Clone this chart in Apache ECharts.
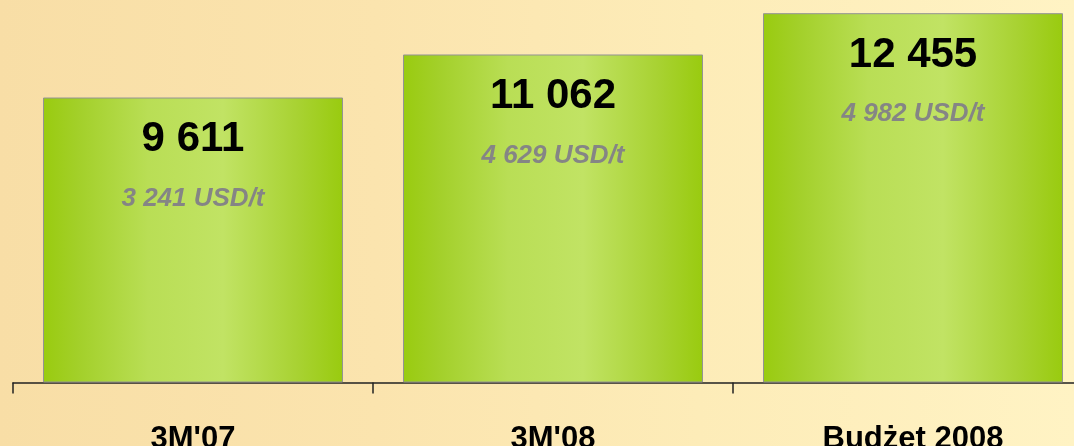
<!DOCTYPE html>
<html>
<head>
<meta charset="utf-8">
<script src="https://cdn.jsdelivr.net/npm/echarts@6/dist/echarts.min.js"></script>
<style>
  html, body { margin: 0; padding: 0; }
  body {
    width: 1074px; height: 446px; overflow: hidden;
    background: linear-gradient(90deg, #f8dea6 0%, #fbe4ae 35%, #fdecb8 65%, #fff3c4 100%);
  }
  #chart { width: 1074px; height: 446px; }
</style>
</head>
<body>
<div id="chart"></div>
<script>
// dane z wykresu
var categories = ["3M'07", "3M'08", "Budżet 2008"];
var values = [9611, 11062, 12455];
var usdPerTon = [3241, 4629, 4982];

function fmt(n) {
  return String(n).replace(/\B(?=(\d{3})+(?!\d))/g, ' ');
}

var chart = echarts.init(document.getElementById('chart'), null, { renderer: 'canvas' });

var barColor = new echarts.graphic.LinearGradient(0, 0, 1, 0, [
  { offset: 0, color: '#99cb0f' },
  { offset: 0.12, color: '#a3d02a' },
  { offset: 0.35, color: '#b9de55' },
  { offset: 0.6, color: '#c1e364' },
  { offset: 0.85, color: '#a8d232' },
  { offset: 1, color: '#99cb0f' }
]);

var option = {
  backgroundColor: 'transparent',
  animation: false,
  grid: { left: 13, width: 1080, top: 0, bottom: 63.5, containLabel: false, outerBoundsMode: 'none' },
  xAxis: {
    type: 'category',
    data: categories,
    axisLine: { show: true, lineStyle: { color: '#222222', width: 1.5 } },
    axisTick: { show: true, length: 11, lineStyle: { color: '#222222', width: 1.5 } },
    axisLabel: {
      color: '#000000',
      fontFamily: 'Liberation Sans, Arial, sans-serif',
      fontWeight: 'bold',
      fontSize: 31,
      margin: 41,
      verticalAlign: 'top'
    }
  },
  yAxis: {
    type: 'value',
    min: 0,
    max: 12900,
    show: false,
    splitLine: { show: false }
  },
  series: [{
    type: 'bar',
    data: values,
    barWidth: 300,
    itemStyle: { color: barColor, borderColor: '#939393', borderWidth: 1 },
    label: {
      show: true,
      position: 'insideTop',
      distance: 21,
      formatter: function (p) {
        return '{a|' + fmt(p.value) + '}\n{b|' + fmt(usdPerTon[p.dataIndex]) + ' USD/t}';
      },
      rich: {
        a: {
          fontFamily: 'Liberation Sans, Arial, sans-serif',
          fontWeight: 'bold',
          fontSize: 42,
          lineHeight: 42,
          color: '#000000'
        },
        b: {
          fontFamily: 'Liberation Sans, Arial, sans-serif',
          fontWeight: 'bold',
          fontStyle: 'italic',
          fontSize: 26,
          lineHeight: 76,
          color: '#858585'
        }
      }
    }
  }]
};

chart.setOption(option);
</script>
</body>
</html>
